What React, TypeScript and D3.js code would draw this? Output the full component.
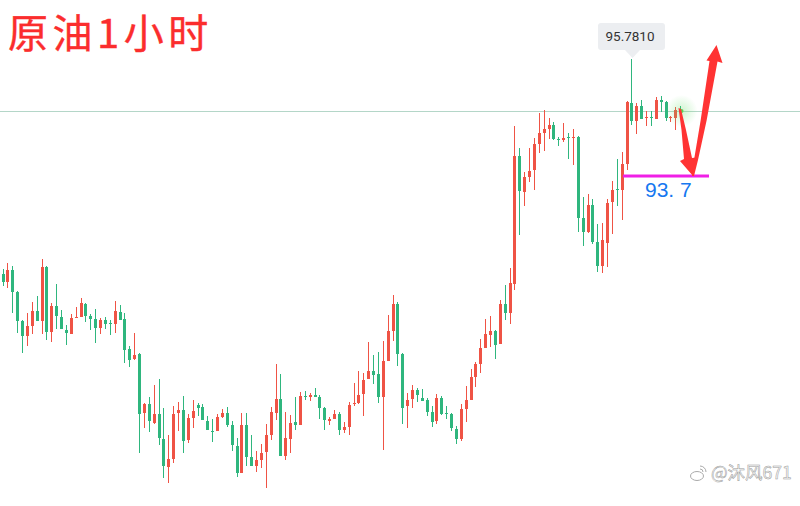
import * as d3 from "d3";

const WIDTH = 800;
const HEIGHT = 506;

const UP_COLOR = "#ef5345";
const DOWN_COLOR = "#2fb67e";

// hourly crude, one entry per candle
const opens = [
  91.96, 91.81, 92.03, 91.64, 91.12, 90.85, 91.03, 91.30, 91.12, 92.08,
  90.92, 91.39, 91.19, 90.96, 90.89, 91.17, 91.19, 91.42, 91.21, 91.15,
  91.00, 91.14, 91.08, 91.07, 91.28, 91.15, 90.62, 90.44, 90.53, 89.48,
  89.64, 89.30, 89.46, 89.02, 88.52, 88.66, 89.48, 89.54, 89.00, 89.39,
  89.62, 89.59, 89.34, 89.16, 89.16, 89.41, 89.48, 89.27, 88.89, 88.41,
  89.27, 88.70, 88.54, 88.65, 88.79, 89.09, 89.48, 89.73, 88.72, 89.02,
  89.32, 89.27, 89.78, 89.77, 89.80, 89.77, 89.57, 89.34, 89.37, 89.46,
  89.18, 89.23, 89.64, 89.66, 89.82, 90.09, 90.23, 90.18, 89.77, 90.41,
  90.94, 91.42, 90.53, 89.60, 89.73, 89.89, 89.75, 89.71, 89.50, 89.34,
  89.75, 89.48, 89.46, 89.20, 89.02, 89.55, 89.71, 90.12, 90.35, 90.64,
  90.87, 90.94, 90.71, 91.42, 91.26, 91.78, 94.06, 93.42, 93.68, 93.81,
  94.27, 94.47, 94.54, 94.61, 94.36, 94.34, 94.39, 94.38, 94.39, 92.95,
  92.70, 93.18, 92.53, 92.10, 92.51, 93.24, 93.47, 93.45, 93.91, 95.00,
  94.68, 94.95, 94.73, 94.75, 94.71, 95.05, 95.02, 94.73, 94.73, 94.88,
];

const closes = [
  91.81, 92.03, 91.64, 91.12, 90.85, 91.03, 91.30, 91.12, 92.08, 90.92,
  91.39, 91.21, 90.98, 90.91, 91.17, 91.19, 91.44, 91.21, 91.15, 91.00,
  91.14, 91.07, 91.07, 91.30, 91.14, 90.60, 90.43, 90.51, 89.46, 89.64,
  89.34, 89.46, 89.04, 88.54, 88.66, 89.46, 89.54, 88.98, 89.39, 89.52,
  89.57, 89.36, 89.18, 89.14, 89.41, 89.48, 89.27, 88.91, 88.41, 89.27,
  88.70, 88.54, 88.65, 88.77, 89.09, 89.50, 89.73, 88.72, 89.04, 89.30,
  89.27, 89.78, 89.77, 89.80, 89.77, 89.57, 89.36, 89.37, 89.46, 89.18,
  89.23, 89.62, 89.66, 89.80, 90.07, 90.23, 90.16, 89.77, 90.41, 90.94,
  91.42, 90.53, 89.57, 89.71, 89.89, 89.80, 89.70, 89.50, 89.32, 89.75,
  89.46, 89.46, 89.21, 89.02, 89.55, 89.71, 90.12, 90.35, 90.64, 90.89,
  90.94, 90.69, 91.42, 91.26, 91.80, 94.06, 93.43, 93.68, 93.79, 94.27,
  94.47, 94.54, 94.61, 94.36, 94.34, 94.38, 94.38, 94.39, 92.95, 92.70,
  93.18, 92.53, 92.10, 92.56, 93.22, 93.45, 93.45, 93.91, 95.02, 94.68,
  94.95, 94.71, 94.75, 94.73, 95.05, 95.02, 94.73, 94.75, 94.88, 94.84,
];

const highs = [
  92.05, 92.15, 92.10, 91.65, 91.14, 91.26, 91.46, 91.56, 92.22, 92.10,
  91.44, 91.78, 91.32, 91.05, 91.24, 91.37, 91.53, 91.44, 91.24, 91.33,
  91.17, 91.19, 91.14, 91.48, 91.40, 91.26, 90.67, 90.91, 90.55, 89.66,
  89.77, 89.98, 90.09, 89.57, 89.09, 89.60, 89.68, 89.78, 89.46, 89.71,
  89.66, 89.64, 89.43, 89.37, 89.46, 89.55, 89.59, 89.34, 89.04, 89.48,
  89.48, 89.09, 88.80, 88.93, 89.29, 89.59, 90.35, 90.18, 89.50, 89.45,
  89.77, 89.86, 89.87, 89.84, 89.93, 89.80, 89.59, 89.41, 89.54, 89.50,
  89.32, 89.68, 90.02, 90.23, 90.19, 90.75, 90.51, 90.57, 90.76, 91.23,
  91.58, 91.46, 90.55, 89.84, 89.98, 89.93, 89.91, 89.75, 89.60, 89.82,
  89.78, 89.60, 89.48, 89.25, 89.64, 89.96, 90.27, 90.39, 90.80, 91.15,
  91.21, 90.96, 91.49, 91.76, 92.06, 94.59, 94.20, 93.77, 94.20, 94.38,
  94.82, 94.88, 94.73, 94.66, 94.39, 94.64, 94.47, 94.54, 94.41, 93.33,
  93.38, 93.29, 92.85, 92.86, 93.29, 93.61, 94.00, 94.13, 95.03, 95.78,
  95.00, 95.05, 94.86, 94.86, 95.10, 95.12, 95.03, 94.77, 94.93, 94.95,
];

const lows = [
  91.74, 91.71, 91.26, 90.91, 90.55, 90.67, 90.89, 91.12, 90.89, 90.78,
  90.75, 90.98, 90.98, 90.69, 90.89, 91.17, 91.19, 91.10, 90.96, 90.73,
  90.89, 90.98, 90.87, 90.91, 91.14, 90.37, 90.30, 90.43, 88.77, 89.21,
  89.14, 89.29, 88.91, 88.32, 88.24, 88.59, 89.16, 88.77, 88.95, 89.21,
  89.43, 89.36, 89.18, 88.97, 89.16, 89.39, 89.23, 88.80, 88.34, 88.41,
  88.54, 88.54, 88.43, 88.50, 88.15, 89.00, 89.36, 88.72, 88.65, 88.77,
  89.18, 89.27, 89.71, 89.70, 89.77, 89.37, 89.18, 89.27, 89.37, 89.09,
  89.12, 89.09, 89.60, 89.64, 89.43, 90.09, 90.00, 89.66, 88.82, 90.41,
  90.76, 90.32, 89.29, 89.21, 89.57, 89.68, 89.70, 89.43, 89.23, 89.29,
  89.45, 89.37, 89.16, 88.93, 88.98, 89.32, 89.71, 89.94, 90.19, 90.64,
  90.66, 90.44, 90.71, 91.14, 91.07, 91.67, 92.65, 93.17, 93.59, 93.45,
  94.11, 94.15, 94.36, 94.34, 94.23, 94.31, 94.00, 93.90, 92.70, 92.45,
  92.69, 92.49, 92.00, 91.97, 92.08, 92.67, 93.17, 92.92, 93.81, 94.61,
  94.45, 94.71, 94.59, 94.59, 94.71, 94.84, 94.68, 94.66, 94.52, 94.84,
];

const LAST_PRICE = 94.86;
const HIGH_INDEX = 129;
const HIGH_LABEL = "95.7810";
const SUPPORT_PRICE = 93.7;
const SUPPORT_LABEL = "93. 7";
const TITLE = "原油1小时";
const WATERMARK = "@沐风671";

const xScale = d3.scaleLinear().domain([0, 139]).range([3.05, 680.675]);
const yScale = d3.scaleLinear().domain([96.833, 87.826]).range([0, HEIGHT]);

const line = d3.line();

// hand drawn arrows on top of the chart
const downArrow: [number, number][] = [
  [678.5, 108], [681, 109], [686, 130], [692, 158], [696, 157.5], [693, 176],
  [680, 161], [684, 159], [681.5, 130],
];
const upArrow: [number, number][] = [
  [692, 176], [694, 160], [700.7, 120], [709.5, 61], [706.5, 60.5], [716.5, 45],
  [722.5, 63], [717.5, 61.5], [706.7, 120], [698, 160], [694, 176],
];

export default function App() {
  const lastY = Math.round(yScale(LAST_PRICE));
  const highX = Math.round(xScale(HIGH_INDEX));
  const supportY = yScale(SUPPORT_PRICE);
  const liveX = Math.round(xScale(opens.length - 1)) + 0.5;

  return (
    <svg
      width={WIDTH}
      height={HEIGHT}
      viewBox={`0 0 ${WIDTH} ${HEIGHT}`}
      style={{ position: "absolute", left: 0, top: 0, background: "#fff" }}
    >
      <defs>
        <radialGradient id="glow">
          <stop offset="0%" stopColor="#5fdc5f" stopOpacity={0.3} />
          <stop offset="100%" stopColor="#5fdc5f" stopOpacity={0} />
        </radialGradient>
      </defs>

      <rect x={0} y={lastY} width={WIDTH} height={1} fill="#b4d6c8" />

      {/* candles */}
      {opens.map((o, i) => {
        const c = closes[i];
        const fill = c >= o ? UP_COLOR : DOWN_COLOR;
        const left = Math.round(xScale(i) - 1.5);
        const top = Math.round(yScale(Math.max(o, c)));
        const bottom = Math.round(yScale(Math.min(o, c)));
        const wickTop = Math.round(yScale(highs[i]));
        const wickBottom = Math.round(yScale(lows[i]));
        return (
          <g key={i} fill={fill}>
            <rect x={left + 1} y={wickTop} width={1} height={wickBottom - wickTop} />
            <rect x={left} y={top} width={3} height={Math.max(1, bottom - top)} />
          </g>
        );
      })}

      {/* live price dot */}
      <circle cx={liveX} cy={lastY} r={16} fill="url(#glow)" />
      <circle cx={liveX} cy={lastY} r={2} fill="#58d858" />

      {/* high tooltip */}
      <path
        d={`M601 23H662a3 3 0 0 1 3 3V47a3 3 0 0 1 -3 3H${highX + 8}L${highX + 0.5} 58L${highX - 7} 50H601a3 3 0 0 1 -3 -3V26a3 3 0 0 1 3 -3Z`}
        fill="#eceef1"
      />
      <text
        x={630}
        y={41}
        textAnchor="middle"
        fontFamily="Roboto, sans-serif"
        fontSize={13.5}
        fill="#333"
      >
        {HIGH_LABEL}
      </text>

      {/* support line */}
      <rect x={623} y={supportY - 1.5} width={86} height={3} fill="#f01fe6" />
      <text
        x={645}
        y={197}
        fontFamily="'Liberation Sans', sans-serif"
        fontSize={21}
        style={{ whiteSpace: "pre" }}
        fill="#1678f0"
      >
        {SUPPORT_LABEL}
      </text>

      <path d={line(downArrow) + "Z"} fill="#ff3333" />
      <path d={line(upArrow) + "Z"} fill="#ff3333" />

      <text
        x={8}
        y={48}
        fontFamily="'Noto Sans CJK SC', sans-serif"
        fontSize={40}
        letterSpacing={4.5}
        fill="#fb2d2d"
        stroke="#fb2d2d"
        strokeWidth={0.4}
      >
        {TITLE}
      </text>

      {/* watermark */}
      <g fill="none" stroke="#aaa" strokeWidth={1}>
        <ellipse cx={697} cy={476} rx={6.5} ry={4.5} />
        <path d="M700 466a6 6 0 0 1 6 6M700 469a3 3 0 0 1 3 3" />
      </g>
      <text
        x={711}
        y={479}
        fontFamily="'Noto Sans CJK SC', sans-serif"
        fontSize={17.5}
        fill="#fafafa"
        stroke="#999"
        strokeWidth={0.5}
      >
        {WATERMARK}
      </text>
    </svg>
  );
}
